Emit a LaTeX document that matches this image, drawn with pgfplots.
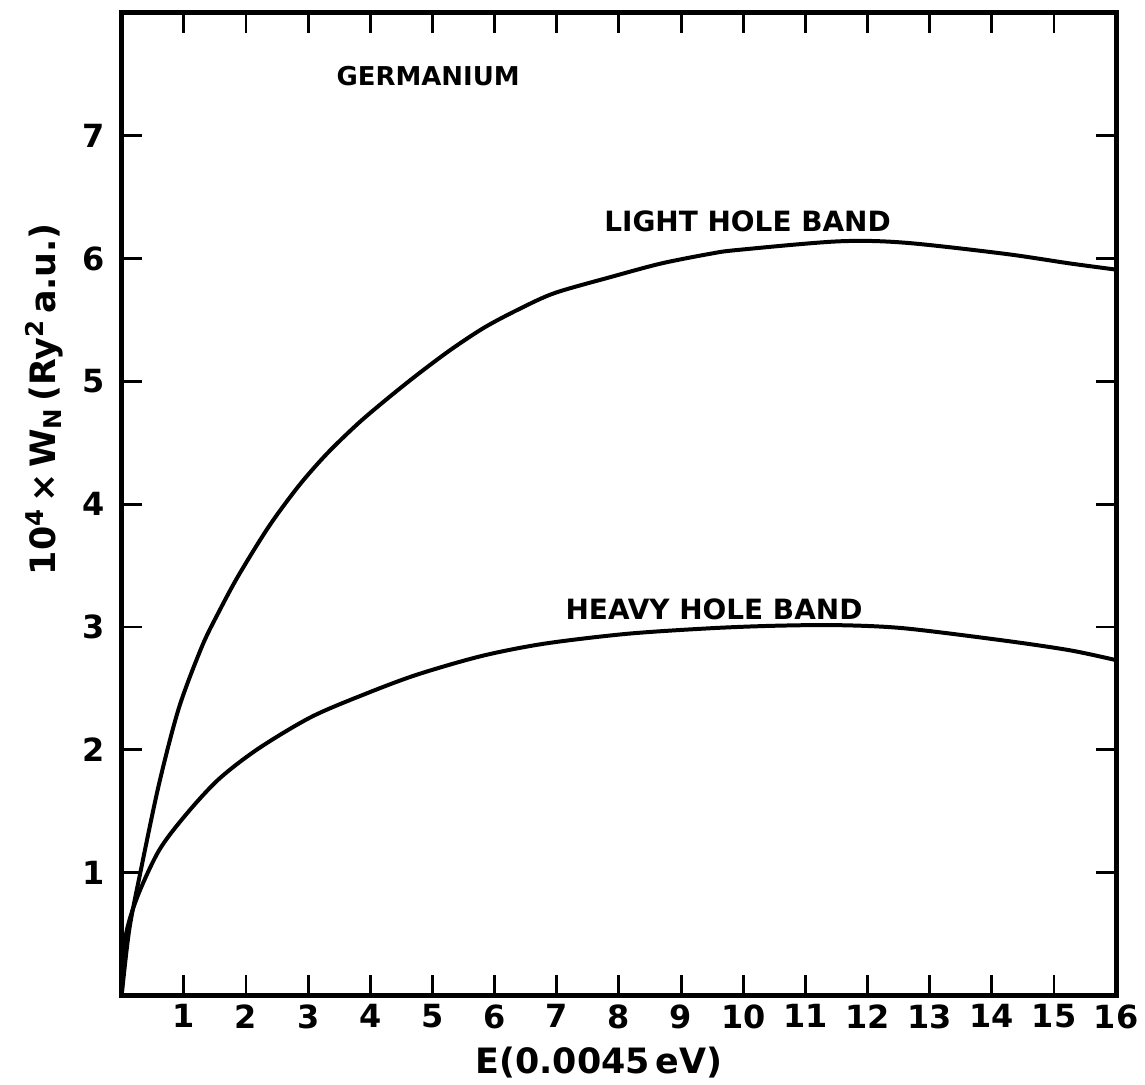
\documentclass[border=0pt]{standalone}
\usepackage{pgfplots}
\pgfplotsset{compat=1.18}
\usepackage{fontspec}
\setmainfont{DejaVu Sans}
\pgfplotstableread{
x y
0 0
0.12 0.53
0.30 1.00
0.60 1.72
0.92 2.34
1.29 2.84
1.56 3.12
1.88 3.42
2.37 3.82
2.85 4.15
3.30 4.41
3.81 4.66
4.30 4.87
4.77 5.06
5.30 5.26
5.84 5.44
6.40 5.59
6.97 5.72
7.87 5.85
8.68 5.96
9.48 6.04
9.91 6.07
11.52 6.14
12.58 6.13
14.19 6.04
15.26 5.96
16 5.91
}\light
\pgfplotstableread{
x y
0 0
0.06 0.47
0.25 0.80
0.60 1.18
1.03 1.47
1.56 1.76
2.20 2.01
3.06 2.27
3.97 2.465
4.77 2.615
5.80 2.765
6.81 2.865
8.14 2.945
9.48 2.99
10.50 3.01
11.52 3.015
12.58 2.99
14.19 2.89
15.26 2.81
16 2.73
}\heavy
\begin{document}
\begin{tikzpicture}
\begin{axis}[
  width=498.5pt, height=492.5pt, scale only axis,
  xmin=0, xmax=16, ymin=0, ymax=8,
  xtick={1,...,16}, ytick={1,...,7},
  tick align=inside,
  major tick length=10pt,
  axis line style={line width=2.5pt},
  every tick/.style={black, line width=1.5pt},
  tick label style={font=\fontsize{16}{19}\selectfont\bfseries},
  /pgf/number format/assume math mode=true,
  yticklabel style={xshift=-5pt},
  xticklabel style={yshift=-1pt},
  xlabel={E(0.0045\,eV)},
  xlabel style={font=\fontsize{17.5}{21}\selectfont\bfseries, at={(axis description cs:0.48,-0.068)}, anchor=center},
  ylabel={10\textsuperscript{4}\,×\,W\textsubscript{N}\,(Ry\textsuperscript{2}\,a.u.)},
  ylabel style={font=\fontsize{17.5}{21}\selectfont\bfseries, at={(axis description cs:-0.078,0.607)}, anchor=center},
  clip=false,
]
\addplot[black, line width=2pt, smooth] table[x=x,y=y] {\light};
\addplot[black, line width=2pt, smooth] table[x=x,y=y] {\heavy};
\node[font=\fontsize{13}{15}\selectfont\bfseries] at (axis cs:4.93,7.49) {GERMANIUM};
\node[font=\fontsize{14}{16}\selectfont\bfseries] at (axis cs:10.07,6.30) {LIGHT HOLE BAND};
\node[font=\fontsize{14}{16}\selectfont\bfseries] at (axis cs:9.53,3.14) {HEAVY HOLE BAND};
\end{axis}
\path ([shift={(-61pt,-42.5pt)}]current axis.south west) rectangle ([shift={(12.5pt,6.5pt)}]current axis.north east);
\end{tikzpicture}
\end{document}
